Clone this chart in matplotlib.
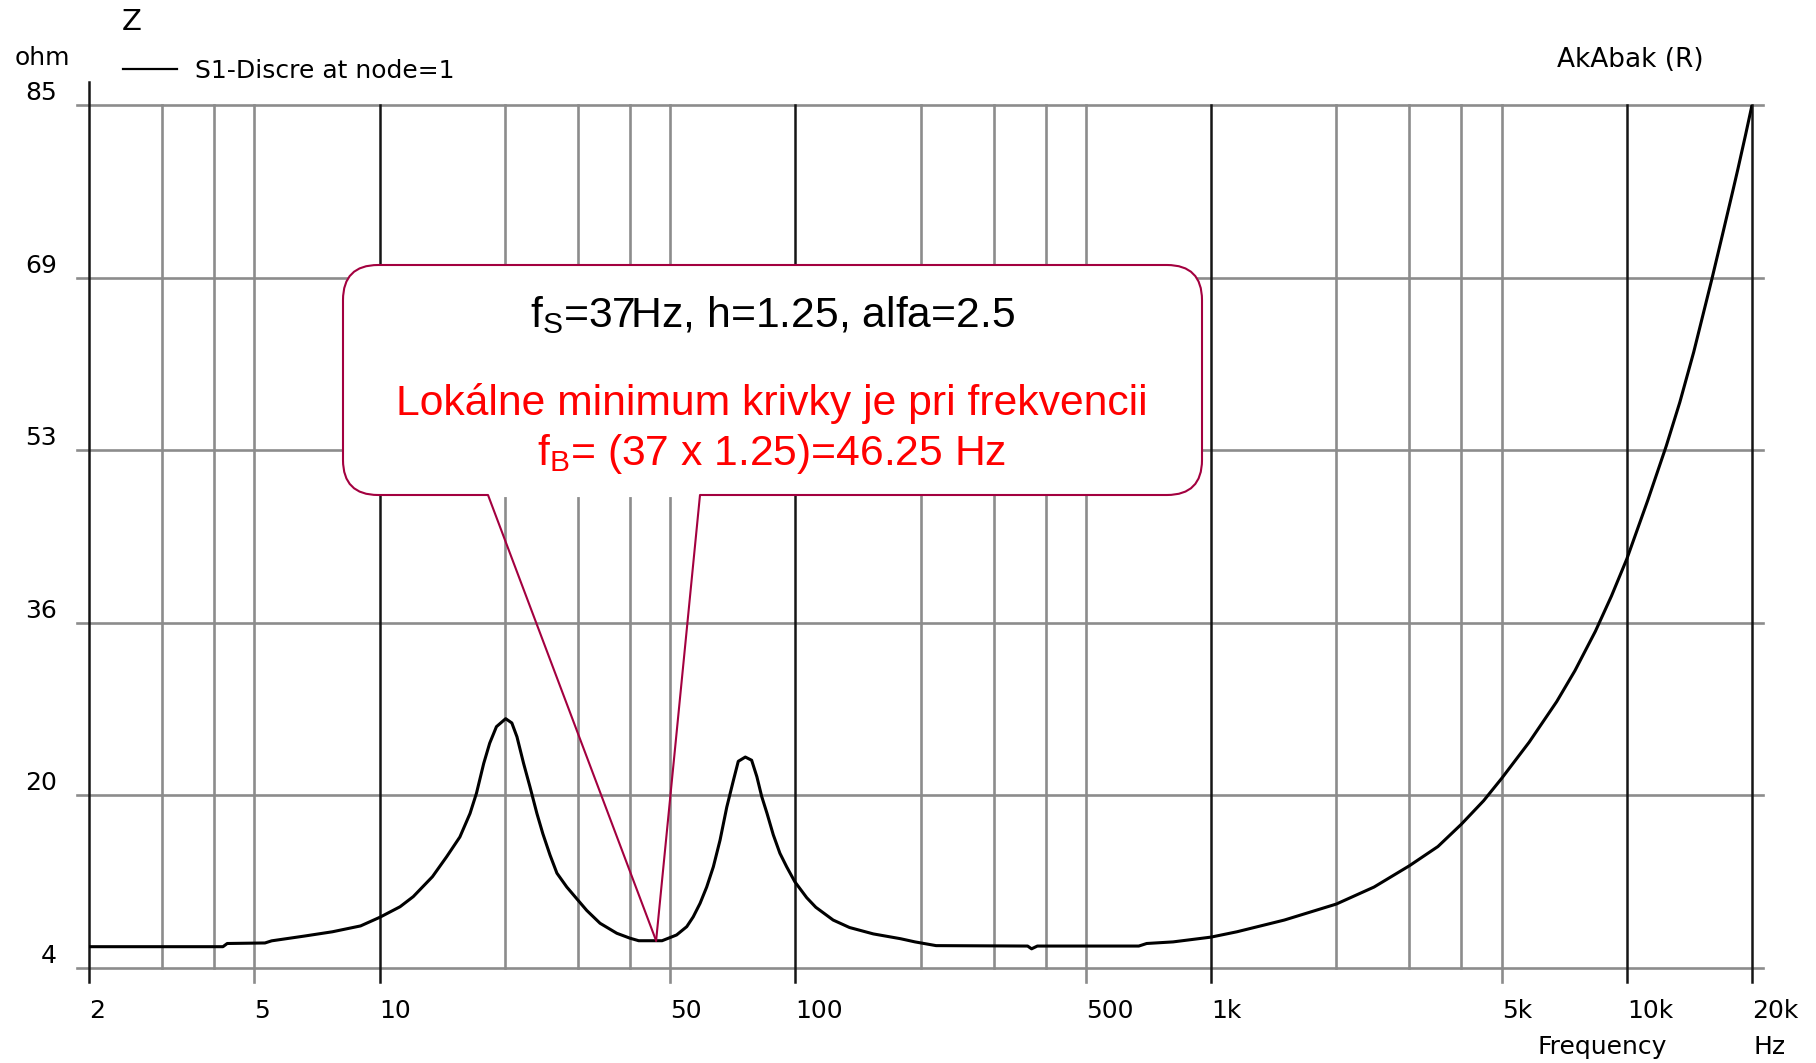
import matplotlib
matplotlib.use("Agg")
import matplotlib.pyplot as plt
import numpy as np
from matplotlib.patches import FancyBboxPatch
from matplotlib.transforms import ScaledTranslation

# impedance magnitude of the box (AkAbak simulation), Hz / ohm
freq = [2, 4.2, 4.3, 5.3, 5.5, 6.6, 7.7, 9.0, 10.0, 11.2, 12.05, 13.4, 14.5, 15.6,
        16.5, 17.1, 17.8, 18.4, 19.1, 20.1, 20.8, 21.4, 22.2, 23.0, 23.9, 24.7,
        25.7, 26.7, 28.2, 29.8, 31.5, 33.9, 37.2, 40.0, 42, 47.8, 51.8, 54.8, 56.8,
        59.0, 61.2, 63.5, 65.9, 68.4, 71.0, 72.9, 75.8, 78.5, 80.8, 83.0, 85.5,
        88.5, 91.8, 95.3, 99.7, 106.5, 112, 123.3, 135, 154, 179, 194, 218, 362,
        370, 382, 670, 700, 810, 1000, 1154, 1500, 2000, 2466, 3000, 3512, 4000,
        4524, 5000, 5823, 6780, 7500, 8400, 9180, 10000, 11230, 12440, 13410,
        14480, 16000, 17000, 18000, 18500, 19300, 19800, 20000]
z = [6.0, 6.0, 6.3, 6.35, 6.55, 7.0, 7.4, 7.95, 8.75, 9.75, 10.7, 12.57, 14.45, 16.3,
     18.5, 20.4, 23.2, 25.1, 26.65, 27.4, 27.0, 25.7, 23.2, 21.0, 18.5, 16.6,
     14.6, 12.9, 11.6, 10.5, 9.4, 8.2, 7.26, 6.8, 6.56, 6.56, 7.1, 7.88, 8.8,
     10.07, 11.6, 13.5, 16.0, 19.1, 21.65, 23.4, 23.8, 23.5, 21.96, 20.1, 18.5,
     16.5, 14.77, 13.5, 12.1, 10.6, 9.7, 8.5, 7.8, 7.2, 6.75, 6.45, 6.1, 6.06,
     5.8, 6.06, 6.06, 6.3, 6.45, 6.9, 7.4, 8.5, 10.0, 11.6, 13.6, 15.4, 17.5,
     19.7, 21.8, 25.2, 29.0, 31.9, 35.6, 38.9, 42.4, 47.9, 53.0, 57.1,
     61.8, 68.6, 72.9, 77.0, 79.0, 82.2, 84.2, 85.0]

y_grid = [4, 20.2, 36.4, 52.6, 68.8, 85]
y_labels = ["4", "20", "36", "53", "69", "85"]
x_ticks = [2, 5, 10, 50, 100, 500, 1000, 5000, 10000, 20000]
x_labels = ["2", "5", "10", "50", "100", "500", "1k", "5k", "10k", "20k"]
x_major = [10, 100, 1000, 10000]
x_minor = [3, 4, 5, 20, 30, 40, 50, 200, 300, 400, 500, 2000, 3000, 4000, 5000]

fs = 37
h = 1.25
alfa = 2.5
fb = fs * h

W, H = 1816, 1063
AX_L, AX_R, AX_T, AX_B = 89, 1752, 105, 968
aw, ah = AX_R - AX_L, AX_B - AX_T

fig = plt.figure(figsize=(W / 100, H / 100), dpi=100)
ax = fig.add_axes([AX_L / W, 1 - AX_B / H, aw / W, ah / H])
ax.set_xscale("log")
ax.set_xlim(2, 20000)
ax.set_ylim(4, 85)
for s in ax.spines.values():
    s.set_visible(False)

grey = "#8c8c8c"
dark = "#151515"
tick_len = 14 / ah

for yv in y_grid:
    ax.axhline(yv, xmin=-12 / aw, xmax=1 + 11 / aw, color=grey, lw=1.9,
               clip_on=False, zorder=1)
for xv in x_minor:
    lo = -tick_len if xv in x_ticks else 0
    ax.axvline(xv, ymin=lo, ymax=1, color=grey, lw=1.9, clip_on=False, zorder=1)
for xv in x_major:
    ax.axvline(xv, ymin=-tick_len, ymax=1, color=dark, lw=1.8, clip_on=False, zorder=2)
ax.axvline(2, ymin=-tick_len, ymax=1 + 23 / ah, color=dark, lw=1.8, clip_on=False, zorder=2)
ax.axvline(20000, ymin=-tick_len, ymax=1, color=dark, lw=1.8, clip_on=False, zorder=2)

ax.plot(freq, z, color="black", lw=2.2, zorder=3, label="S1-Discre at node=1")

ax.set_xticks(x_ticks, x_labels)
ax.xaxis.set_minor_locator(matplotlib.ticker.NullLocator())
ax.set_yticks(y_grid, y_labels)
ax.tick_params(axis="x", length=0, pad=22.3, labelsize=18)
ax.tick_params(axis="y", length=0, pad=23, labelsize=18)
plt.setp(ax.get_xticklabels(), ha="left")
lift = ScaledTranslation(0, 5 / 100, fig.dpi_scale_trans)
for lab in ax.get_yticklabels():
    lab.set_va("baseline")
    lab.set_transform(lab.get_transform() + lift)

leg = ax.legend(loc="center left", bbox_to_anchor=(123 / W, 1 - 71 / H),
                bbox_transform=fig.transFigure, frameon=False, fontsize=18,
                handlelength=2.16, handletextpad=0.72, borderpad=0, borderaxespad=0)
leg.get_lines()[0].set_linewidth(1.6)

fig.text(132 / W, 1 - 22 / H, "Z", ha="center", va="center", fontsize=21)
fig.text(15 / W, 1 - 65 / H, "ohm", ha="left", va="baseline", fontsize=18)
fig.text(1557 / W, 1 - 67 / H, "AkAbak (R)", ha="left", va="baseline", fontsize=19)
fig.text(1537 / W, 1 - 1054 / H, "Frequency", ha="left", va="baseline", fontsize=18)
fig.text(1753 / W, 1 - 1054 / H, "Hz", ha="left", va="baseline", fontsize=18)

# callout box
edge = "#a3003f"
bx0, bx1 = (343 - AX_L) / aw, (1202 - AX_L) / aw
by0, by1 = (AX_B - 495) / ah, (AX_B - 265) / ah
r = 35 / aw
box = FancyBboxPatch((bx0, by0), bx1 - bx0, by1 - by0,
                     boxstyle=f"round,pad=0,rounding_size={r}",
                     mutation_aspect=aw / ah, transform=ax.transAxes,
                     facecolor="white", edgecolor=edge, lw=1.5, zorder=5)
ax.add_patch(box)

base_l, base_r = (488 - AX_L) / aw, (700 - AX_L) / aw
ax.plot([base_l, base_r], [by0, by0], transform=ax.transAxes, color="white",
        lw=3, solid_capstyle="butt", zorder=6)
z_tip = np.interp(np.log10(fb), np.log10(freq), z)
for bx in (base_l, base_r):
    ax.annotate("", xy=(fb, z_tip), xycoords="data", xytext=(bx, by0),
                textcoords="axes fraction",
                arrowprops=dict(arrowstyle="-", color=edge, lw=1.5,
                                shrinkA=0, shrinkB=0), zorder=7)

cx = (772 - AX_L) / aw
txt = dict(transform=ax.transAxes, ha="center", va="baseline", fontsize=30.7,
           family="Liberation Sans", zorder=8)
plt.rcParams["mathtext.default"] = "regular"
ax.text(cx, (AX_B - 327) / ah, r"f$_\mathregular{S}$=%dHz, h=%.2f, alfa=%.1f" % (fs, h, alfa),
        color="black", **txt)
ax.text(cx, (AX_B - 415) / ah, "Lokálne minimum krivky je pri frekvencii",
        color="#ff0000", **txt)
ax.text(cx, (AX_B - 465) / ah, r"f$_\mathregular{B}$= (%d x %.2f)=%.2f Hz" % (fs, h, fb),
        color="#ff0000", **txt)

fig.savefig("out.png", dpi=100, facecolor="white")
